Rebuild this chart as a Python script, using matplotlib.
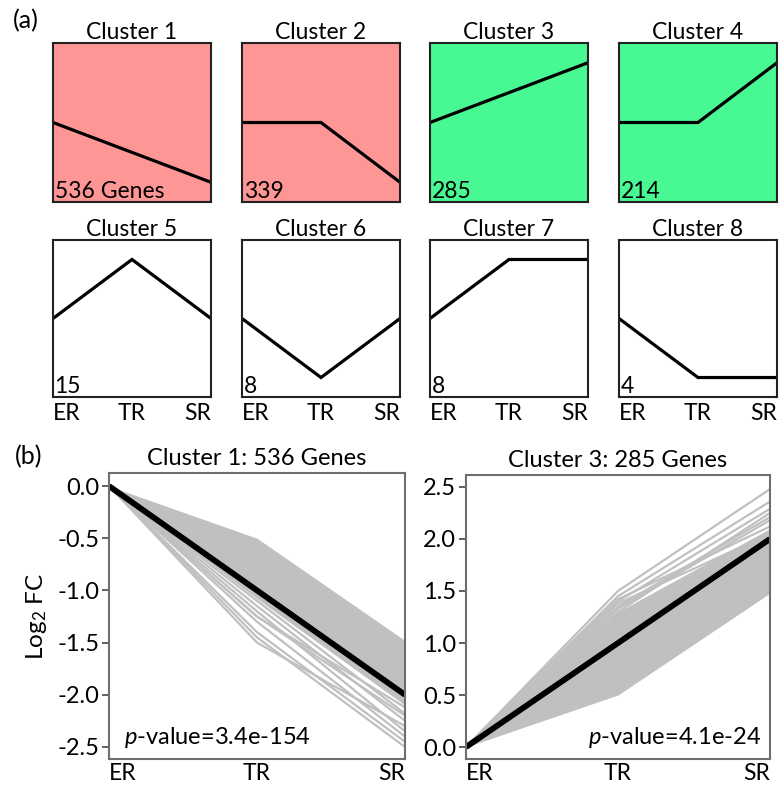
import matplotlib
matplotlib.use("Agg")
import matplotlib.pyplot as plt
import numpy as np

plt.rcParams['font.family'] = ['Lato', 'DejaVu Sans']
plt.rcParams['mathtext.fontset'] = 'custom'
plt.rcParams['mathtext.it'] = 'Lato:italic'
plt.rcParams['mathtext.rm'] = 'Lato'

# ---------------- data ----------------
stages = ["ER", "TR", "SR"]
cluster_names = ["Cluster 1", "Cluster 2", "Cluster 3", "Cluster 4",
                 "Cluster 5", "Cluster 6", "Cluster 7", "Cluster 8"]
cluster_counts = ["536 Genes", "339", "285", "214", "15", "8", "8", "4"]
cluster_profiles = [
    [0, -0.5, -1],
    [0, 0, -1],
    [0, 0.5, 1],
    [0, 0, 1],
    [0, 1, 0],
    [0, -1, 0],
    [0, 1, 1],
    [0, -1, -1],
]
cluster_colors = ["#ff9696", "#ff9696", "#48f893", "#48f893",
                  "white", "white", "white", "white"]

# panel (b) cluster 1
c1_mean = [0.0, -1.0, -2.0]
c1_band_upper = [0.0, -0.5, -1.48]
c1_band_lower = [0.0, -1.08, -2.1]
c1_lines_tr = [-1.50, -1.45, -1.30, -1.25, -1.20, -1.15, -1.25, -1.10, -1.40]
c1_lines_sr = [-2.30, -2.50, -2.40, -2.20, -2.35, -2.25, -2.12, -2.18, -2.45]
c1_title = "Cluster 1: 536 Genes"
c1_p = "3.4e-154"

# panel (b) cluster 3
c3_mean = [0.0, 1.0, 2.0]
c3_band_lower = [0.0, 0.5, 1.48]
c3_band_upper = [0.0, 1.3, 2.1]
c3_lines_tr = [1.50, 1.45, 1.40, 1.35, 1.30, 1.42, 1.33, 1.38]
c3_lines_sr = [2.48, 2.36, 2.29, 2.21, 2.25, 2.12, 2.18, 2.05]
c3_title = "Cluster 3: 285 Genes"
c3_p = "4.1e-24"

# ---------------- figure ----------------
W, H = 783, 785
fig = plt.figure(figsize=(W / 100, H / 100), dpi=100)
FS = 16.5


def px_axes(x0, y0, x1, y1):
    return fig.add_axes([x0 / W, 1 - y1 / H, (x1 - x0) / W, (y1 - y0) / H])


xs = [0, 1, 2]
col_x = [(53, 211), (242, 400), (430, 588), (619, 777)]
row_y = [(43, 202), (240, 397)]

for i in range(8):
    r, c = divmod(i, 4)
    x0, x1 = col_x[c]
    y0, y1 = row_y[r]
    ax = px_axes(x0, y0, x1, y1)
    ax.set_facecolor(cluster_colors[i])
    ax.plot(xs, cluster_profiles[i], color="black", lw=2.3, solid_joinstyle="miter")
    ax.set_xlim(0, 2)
    ax.set_ylim(-1.33, 1.33)
    for s in ax.spines.values():
        s.set_linewidth(1.5)
        s.set_color("#222222")
    ax.set_yticks([])
    ax.set_title(cluster_names[i], fontsize=FS, pad=3)
    ax.text(0.01, 0.0, cluster_counts[i], transform=ax.transAxes,
            fontsize=FS, ha="left", va="bottom")
    if r == 1:
        ax.set_xticks(xs)
        ax.set_xticklabels(stages, fontsize=FS)
        ax.tick_params(axis="x", length=0, pad=4)
        labs = ax.get_xticklabels()
        labs[0].set_ha("left")
        labs[2].set_ha("right")
    else:
        ax.set_xticks([])

fig.text(13 / W, 1 - 21 / H, "(a)", fontsize=18, va="center", ha="left")
fig.text(15 / W, 1 - 457 / H, "(b)", fontsize=18, va="center", ha="left")


def panel_b(ax, mean, lo, hi, lines_tr, lines_sr, title, pval, ylim, yticks, ptext_right):
    gray = "#c0c0c0"
    ax.fill_between(xs, lo, hi, color=gray, lw=0)
    for tr, sr in zip(lines_tr, lines_sr):
        ax.plot(xs, [0, tr, sr], color=gray, lw=1.6)
    ax.plot(xs, mean, color="black", lw=4.2, solid_capstyle="butt")
    ax.set_xlim(0, 2)
    ax.set_ylim(*ylim)
    ax.set_yticks(yticks)
    ax.set_yticklabels([f"{v:.1f}" for v in yticks], fontsize=17)
    ax.set_xticks(xs)
    ax.set_xticklabels(stages, fontsize=FS)
    labs = ax.get_xticklabels()
    labs[0].set_ha("left")
    labs[2].set_ha("right")
    ax.tick_params(axis="x", length=0, pad=3)
    ax.tick_params(axis="y", length=5, width=1.3, color="#555555", pad=2)
    for s in ax.spines.values():
        s.set_linewidth(1.5)
        s.set_color("#6e6e6e")
    ax.set_title(title, fontsize=17, pad=6)
    if ptext_right:
        ax.text(0.97, 0.03, "$p$-value=" + pval, transform=ax.transAxes,
                fontsize=17, ha="right", va="bottom")
    else:
        ax.text(0.05, 0.03, "$p$-value=" + pval, transform=ax.transAxes,
                fontsize=17, ha="left", va="bottom")


axl = px_axes(109, 473, 405, 759)
panel_b(axl, c1_mean, c1_band_lower, c1_band_upper, c1_lines_tr, c1_lines_sr,
        c1_title, c1_p, (-2.615, 0.125), [0.0, -0.5, -1.0, -1.5, -2.0, -2.5], False)
axl.set_ylabel("Log$_2$ FC", fontsize=17.5, labelpad=6)

axr = px_axes(466, 475, 770, 759)
panel_b(axr, c3_mean, c3_band_lower, c3_band_upper, c3_lines_tr, c3_lines_sr,
        c3_title, c3_p, (-0.115, 2.615), [0.0, 0.5, 1.0, 1.5, 2.0, 2.5], True)

fig.savefig("out.png", dpi=100)
